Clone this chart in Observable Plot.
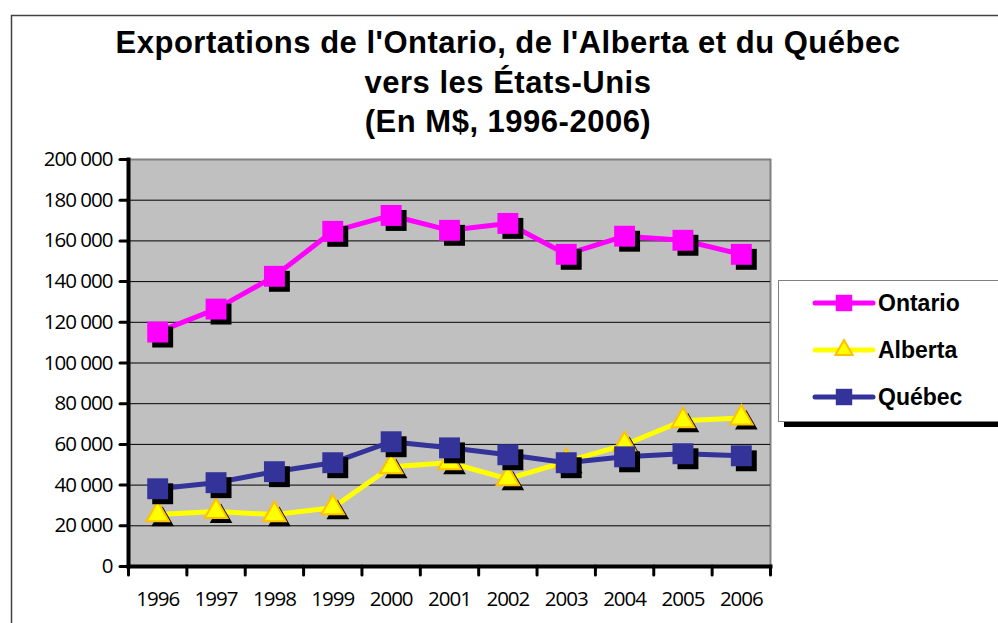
<!DOCTYPE html>
<html>
<head>
<meta charset="utf-8">
<script src="https://cdn.jsdelivr.net/npm/d3@7"></script>
<script src="https://cdn.jsdelivr.net/npm/@observablehq/plot@0.6"></script>
<style>
  body { margin: 0; background: #fff; }
  #wrap { position: relative; width: 998px; height: 623px; overflow: hidden; background: #fff; }
</style>
</head>
<body>
<div id="wrap"></div>
<script>
const years = [1996, 1997, 1998, 1999, 2000, 2001, 2002, 2003, 2004, 2005, 2006];
const ontario = [115200, 126500, 142600, 164700, 172500, 165200, 168600, 153400, 162300, 160300, 153400];
const alberta = [25500, 27000, 25500, 28900, 49000, 51000, 43100, 51500, 59800, 71600, 73000];
const quebec  = [38200, 41200, 46600, 51000, 61300, 58300, 54900, 51000, 53900, 55400, 54400];
const seriesNames = ["Ontario", "Alberta", "Québec"];
const seriesColors = ["#FF00FF", "#FFFF00", "#333399"];
const seriesSymbols = ["square", "triangle", "square"];
const yTicks = [0, 20000, 40000, 60000, 80000, 100000, 120000, 140000, 160000, 180000, 200000];
const titleLines = [
  "Exportations de l'Ontario, de l'Alberta et du Québec",
  "vers les États-Unis",
  "(En M$, 1996-2006)"
];

const seriesValues = [ontario, alberta, quebec];
const seriesData = seriesValues.map((vals, s) =>
  years.map((year, i) => ({ year, value: vals[i], series: seriesNames[s] }))
);
const boundaries = years.map(y => y - 0.5).concat([years[years.length - 1] + 0.5]);
const fmt = d => d3.format(",")(d).replace(/,/g, " ");

const seriesMarks = seriesData.flatMap((data, s) => {
  const sym = seriesSymbols[s];
  const r = sym === "square" ? 11.8 : 8.4;
  return [
    Plot.line(data, { x: "year", y: "value", stroke: seriesColors[s], strokeWidth: 5 }),
    Plot.dot(data, { x: "year", y: "value", symbol: sym, r, fill: "black", stroke: "none", dx: 5, dy: 5 }),
    Plot.dot(data, {
      x: "year", y: "value", symbol: sym, r,
      fill: seriesColors[s],
      stroke: sym === "triangle" ? "#FFC000" : "none",
      strokeWidth: sym === "triangle" ? 2 : 0
    })
  ];
});

const chart = Plot.plot({
  width: 998,
  height: 623,
  marginLeft: 128,
  marginRight: 228,
  marginTop: 159,
  marginBottom: 57,
  x: { type: "linear", domain: [boundaries[0], boundaries[boundaries.length - 1]] },
  y: { domain: [0, 200000] },
  style: { fontFamily: "'Open Sans', sans-serif", fontSize: "20.5px", color: "black", background: "white", letterSpacing: "-1px" },
  marks: [
    Plot.frame({ fill: "#C0C0C0", stroke: "#808080", strokeWidth: 2 }),
    Plot.ruleY(yTicks.filter(t => t > 0 && t < 200000), { stroke: "black", strokeWidth: 1 }),
    Plot.frame({ anchor: "left", stroke: "black", strokeWidth: 4 }),
    Plot.frame({ anchor: "bottom", stroke: "black", strokeWidth: 4 }),
    Plot.axisY({ ticks: yTicks, tickSize: 8, tickPadding: 8, tickFormat: fmt, label: null, stroke: "black", strokeWidth: 3, strokeLinecap: "round" }),
    Plot.axisX({ ticks: boundaries, tickSize: 9, tickFormat: () => "", label: null, stroke: "black", strokeWidth: 3, strokeLinecap: "round" }),
    Plot.axisX({ ticks: years, tickSize: 0, tickPadding: 25, tickFormat: d => String(d), label: null }),
    ...seriesMarks
  ]
});

document.getElementById("wrap").appendChild(chart);
const svg = d3.select(chart);

// outer frame
svg.append("path")
  .attr("d", "M11.5,623V15.5H998")
  .attr("fill", "none").attr("stroke", "#404040").attr("stroke-width", 1.5);

// title
const title = svg.append("g")
  .attr("font-family", "'Liberation Sans', Arial, sans-serif")
  .attr("font-weight", "bold")
  .attr("font-size", 31)
  .attr("letter-spacing", "0.5px")
  .attr("text-anchor", "middle")
  .attr("fill", "black");
titleLines.forEach((t, i) => {
  title.append("text").attr("x", 508).attr("y", 53 + i * 39.5).text(t);
});

// legend
const lg = svg.append("g");
lg.append("rect").attr("x", 784).attr("y", 421).attr("width", 220).attr("height", 6).attr("fill", "black");
lg.append("rect").attr("x", 778.5).attr("y", 280.5).attr("width", 230).attr("height", 141)
  .attr("fill", "white").attr("stroke", "#808080").attr("stroke-width", 1);
seriesNames.forEach((name, i) => {
  const cy = 303 + i * 47;
  lg.append("line").attr("x1", 815).attr("x2", 873).attr("y1", cy).attr("y2", cy)
    .attr("stroke", seriesColors[i]).attr("stroke-width", 5).attr("stroke-linecap", "round");
  const isTri = seriesSymbols[i] === "triangle";
  const size = isTri ? 130 : 270;
  lg.append("path")
    .attr("d", d3.symbol(isTri ? d3.symbolTriangle : d3.symbolSquare, size)())
    .attr("transform", `translate(844,${cy})`)
    .attr("fill", seriesColors[i])
    .attr("stroke", isTri ? "#FFC000" : "none")
    .attr("stroke-width", isTri ? 2 : 0);
  lg.append("text").attr("x", 878).attr("y", cy + 8)
    .attr("text-anchor", "start")
    .attr("font-family", "'Liberation Sans', Arial, sans-serif")
    .attr("font-weight", "bold").attr("font-size", 23).attr("letter-spacing", "0px")
    .attr("fill", "black").text(name);
});
</script>
</body>
</html>
